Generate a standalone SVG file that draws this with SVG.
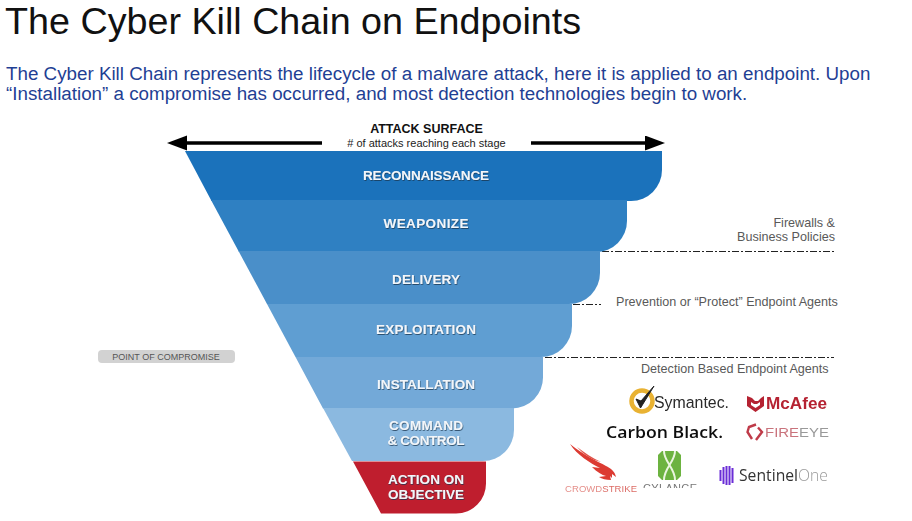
<svg xmlns="http://www.w3.org/2000/svg" width="912" height="521" viewBox="0 0 912 521">
<style>
text{font-family:"Liberation Sans",Arial,sans-serif}
.stage{font-size:13.500px;font-weight:700;fill:#f2f6fa;text-anchor:middle;filter:url(#sh)}
.note{font-size:12.600px;fill:#595959}
.cut{fill:none;stroke:#222;stroke-width:1;stroke-dasharray:7 2 2 2}
.arrow{fill:none;stroke:#000;stroke-width:3.6}
</style>
<defs>
<filter id="sh" x="-10%" y="-20%" width="120%" height="150%"><feDropShadow dx="0.6" dy="1" stdDeviation="0.5" flood-color="#1a3550" flood-opacity=".75"/></filter>
<filter id="soft" x="-10%" y="-10%" width="120%" height="120%"><feGaussianBlur stdDeviation="0.35"/></filter>
<marker id="ah" markerUnits="userSpaceOnUse" markerWidth="21" markerHeight="16" refX="1" refY="7.500" orient="auto"><path d="M0 0L20 7.500L0 15Z" fill="#000"/></marker>
<clipPath id="cyl"><rect x="640" y="480" width="60" height="8"/></clipPath>
</defs>
<rect width="912" height="521" fill="#fff"/>
<text id="title" x="5" y="34" font-size="37.700" fill="#111">The Cyber Kill Chain on Endpoints</text>
<g id="intro" font-size="18.800" fill="#1f3f94">
<text x="6" y="80">The Cyber Kill Chain represents the lifecycle of a malware attack, here it is applied to an endpoint. Upon</text>
<text x="6" y="100">“Installation” a compromise has occurred, and most detection technologies begin to work.</text>
</g>
<g id="connectors">
<path class="arrow" d="M322 143H186" marker-end="url(#ah)"/>
<path class="arrow" d="M531 143H646" marker-end="url(#ah)"/>
<path class="cut" d="M602 251.500H836"/>
<path class="cut" d="M573 304.500H601"/>
<path class="cut" d="M545 357.500H834"/>
</g>
<g id="attack-surface" text-anchor="middle">
<text x="426.500" y="133" font-size="12.500" font-weight="700" fill="#111">ATTACK SURFACE</text>
<text x="426.500" y="147" font-size="11" fill="#222"># of attacks reaching each stage</text>
</g>
<g id="reconnaissance"><path d="M185 151H662V170A31 31 0 0 1 631 201H211.500Z" fill="#1b72bb"/><text class="stage" x="426" y="180" textLength="126">RECONNAISSANCE</text></g>
<g id="weaponize"><path d="M211 200H627V221A31 31 0 0 1 596 252H239Z" fill="#2f80c2"/><text class="stage" x="426" y="228" textLength="85">WEAPONIZE</text></g>
<g id="delivery"><path d="M238.500 251H600V273A31 31 0 0 1 569 304H267Z" fill="#4a8fc9"/><text class="stage" x="426" y="284" textLength="68">DELIVERY</text></g>
<g id="exploitation"><path d="M267 304H572V326A31 31 0 0 1 541 357H295.500Z" fill="#5f9ed2"/><text class="stage" x="426" y="334" textLength="100">EXPLOITATION</text></g>
<g id="installation"><path d="M295.500 357H543V377A31 31 0 0 1 512 408.500H323Z" fill="#73a9d8"/><text class="stage" x="426" y="389" textLength="98">INSTALLATION</text></g>
<g id="command-control"><path d="M323 408H514V430A31 31 0 0 1 483 461H352Z" fill="#8bb9e0"/><text class="stage" x="426" y="430" textLength="74">COMMAND</text><text class="stage" x="426" y="445" textLength="77">&amp; CONTROL</text></g>
<g id="action-on-objective"><path d="M353 461.500H486V483A30 30 0 0 1 456 513.500H381Z" fill="#bf1e2e"/><text class="stage" x="426" y="484" textLength="76">ACTION ON</text><text class="stage" x="426" y="499" textLength="76">OBJECTIVE</text></g>
<g id="point-of-compromise"><rect x="98" y="350" width="137" height="13" rx="4" fill="#d2d2d2"/><text x="166" y="360" font-size="9" fill="#555" text-anchor="middle">POINT OF COMPROMISE</text></g>
<g id="note-firewalls" class="note" text-anchor="end"><text x="835" y="227">Firewalls &amp;</text><text x="835" y="241">Business Policies</text></g>
<g id="note-prevention"><text class="note" x="616" y="306">Prevention or “Protect” Endpoint Agents</text></g>
<g id="note-detection"><text class="note" x="641" y="373">Detection Based Endpoint Agents</text></g>
<g id="logo-symantec" filter="url(#soft)">
<circle cx="642" cy="401" r="10.500" fill="#fff" stroke="#e9b233" stroke-width="4.500"/>
<path d="M636 399L640.500 408L654 386L641 401Z" fill="#222" stroke="#222" stroke-width="1"/>
<text x="654" y="408" font-size="16.800" fill="#2a2a2a" textLength="75" lengthAdjust="spacingAndGlyphs">Symantec.</text>
</g>
<g id="logo-mcafee" filter="url(#soft)">
<path d="M747 396L752 398L755 401L758 401L761 398L764 396V406L755.500 412L747 406ZM751 402V405L755.500 408L760 405V402L757 404H754Z" fill="#b52230" fill-rule="evenodd"/>
<text x="766" y="409" font-size="16.500" font-weight="700" fill="#b52230" textLength="61" lengthAdjust="spacingAndGlyphs">McAfee</text>
</g>
<g id="logo-carbon-black" filter="url(#soft)"><text x="606" y="438" style="font-family:'Open Sans',sans-serif" font-size="17" font-weight="600" fill="#111" textLength="117" lengthAdjust="spacingAndGlyphs">Carbon Black.</text></g>
<g id="logo-fireeye" filter="url(#soft)">
<path d="M756 424.500L749 427L747.500 432L752 439M758 427.500L762 432L756 440" fill="none" stroke="#bf3a48" stroke-width="2.400"/>
<text x="765" y="437" font-size="12.500" textLength="64" lengthAdjust="spacingAndGlyphs"><tspan fill="#c9737c">FIRE</tspan><tspan fill="#999">EYE</tspan></text>
</g>
<g id="logo-crowdstrike" filter="url(#soft)">
<path d="M570 444C577 455 590 463 600 468L592 467C597 472 602 475 606 476L599 477C602 479 606 480 611 480L610 476L612 478L612 474L616 477C615 471 610 468 606 466C597 461 585 456 570 444Z" fill="#dc3a31"/>
<path d="M577 447C585 453 592 458 601 462C592 460 584 455 577 447Z" fill="#e0534a"/>
<text x="565" y="492" font-size="9.500" textLength="72" lengthAdjust="spacing" fill="#e58f8a">CROWD<tspan fill="#dc6c66">STRIKE</tspan></text>
</g>
<g id="logo-cylance" filter="url(#soft)">
<path d="M662 451H677L681 455V476L677 480H662L658 476V455Z" fill="#6cb33f"/>
<path d="M664 451C664 462 675 468 675 480M675 451C675 462 664 468 664 480" fill="none" stroke="#eaf5df" stroke-width="2"/>
<g clip-path="url(#cyl)"><text x="643" y="492" font-size="11" fill="#777" textLength="54" lengthAdjust="spacing">CYLANCE</text></g>
</g>
<g id="logo-sentinelone" filter="url(#soft)">
<g stroke="#6b2fd6" stroke-width="2" fill="none"><path d="M720.500 470V481M723.500 467V484M726.500 466V485M729.500 466V485M732.500 468V483"/></g>
<text x="739" y="481" style="font-family:'Open Sans',sans-serif" font-size="15.500" font-weight="400" fill="#333" textLength="89" lengthAdjust="spacingAndGlyphs">Sentinel<tspan fill="#999" font-weight="300">One</tspan></text>
</g>
</svg>
